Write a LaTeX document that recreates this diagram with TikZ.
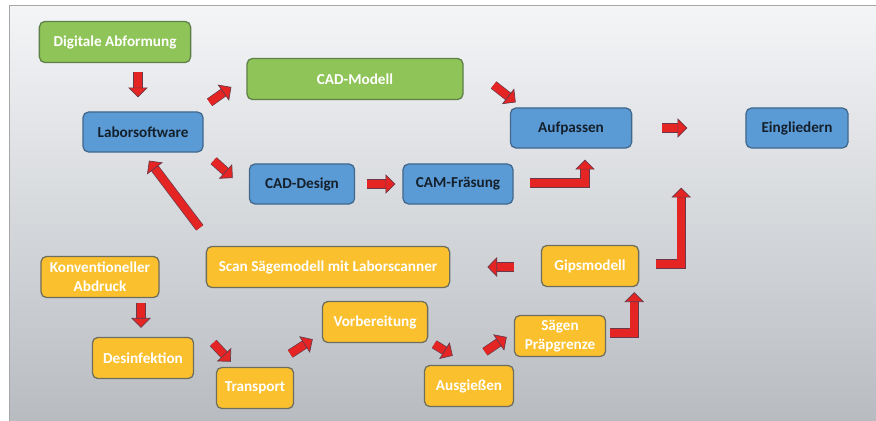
\documentclass[tikz,border=0pt]{standalone}
\usepackage{fontspec}
\setmainfont{Carlito}
\usetikzlibrary{arrows.meta}
\definecolor{grn}{HTML}{8FC558}
\definecolor{grnline}{HTML}{5E7F48}
\definecolor{blu}{HTML}{5B9BD5}
\definecolor{bluline}{HTML}{41678C}
\definecolor{blutext}{HTML}{14202C}
\definecolor{org}{HTML}{FBC02D}
\definecolor{orgline}{HTML}{6E6E5E}
\definecolor{arrred}{HTML}{E52424}
\definecolor{arredge}{HTML}{6A3A4A}
\definecolor{bgtop}{HTML}{F4F5F7}
\definecolor{bgmid}{HTML}{DDE0E3}
\definecolor{bgbot}{HTML}{B8BCC1}
\begin{document}
\begin{tikzpicture}[x=0.025cm,y=-0.025cm]
\tikzstyle{box}=[rounded corners=4pt,line width=0.9pt,font=\bfseries\fontsize{10.8}{13.5}\selectfont,minimum height=1.03cm,inner sep=2pt,align=center];
\tikzstyle{gbox}=[box,fill=grn,draw=grnline,text=white];
\tikzstyle{bbox}=[box,fill=blu,draw=bluline,text=blutext,minimum height=1cm];
\tikzstyle{obox}=[box,fill=org,draw=orgline,text=white];
\tikzstyle{flow}=[line width=5.5pt,color=arrred,-{Triangle[length=7pt,width=14pt,fill=arrred,color=arredge,line width=0.5pt]},preaction={draw=arredge,line width=6.5pt,shorten >=5pt,-}];

% background
\useasboundingbox (0,0) rectangle (876,421);
\fill[white] (0,0) rectangle (876,421);
\shade[top color=bgtop,middle color=bgmid,bottom color=bgbot] (9,5) rectangle (876,421);
\draw[gray!70,line width=0.6pt] (876,5) -| (9,421);

% digital path
\node [gbox,minimum width=3.78cm] (dig) at (115,42) {Digitale Abformung};
\node [gbox,minimum width=5.4cm] (cadm) at (355,79) {CAD-Modell};
\node [bbox,minimum width=3cm] (lab) at (143,132) {Laborsoftware};
\node [bbox,minimum width=3.03cm] (auf) at (571,128) {Aufpassen};
\node [bbox,minimum width=2.55cm] (ein) at (797,128) {Eingliedern};
\node [bbox,minimum width=2.63cm] (cadd) at (302,184) {CAD-Design};
\node [bbox,minimum width=2.75cm] (cam) at (458,184) {CAM-Fräsung};

% conventional path
\node [obox,minimum width=6.08cm] (scan) at (328,267) {Scan Sägemodell mit Laborscanner};
\node [obox,minimum width=2.43cm] (gips) at (590,266) {Gipsmodell};
\node [obox,minimum width=2.95cm] (konv) at (100,277) {Konventioneller\\Abdruck};
\node [obox,minimum width=2.53cm] (des) at (143,358) {Desinfektion};
\node [obox,minimum width=1.93cm] (trans) at (255,388) {Transport};
\node [obox,minimum width=2.63cm] (vorb) at (375,322) {Vorbereitung};
\node [obox,minimum width=2.23cm] (aus) at (469,386) {Ausgießen};
\node [obox,minimum width=2.28cm] (saeg) at (560,336) {Sägen\\Präpgrenze};

\draw [flow] ([shift={(23,9)}]dig.south) -- ([shift={(-5,-14)}]lab.north);
\draw [flow] ([shift={(6,-9)}]lab.north east) -- ([shift={(-15,8)}]cadm.west);
\draw [flow] ([shift={(10,8)}]lab.south east) -- ([shift={(-16,-6)}]cadd.west);
\draw [flow] ([shift={(12,0)}]cadd.east) -- ([shift={(-7,0)}]cam.west);
\draw [flow] ([shift={(16,-1)}]cam.east) -| ([shift={(14,11)}]auf.south);
\draw [flow] ([shift={(30,6)}]cadm.east) -- ([shift={(6,-5)}]auf.north west);
\draw [flow] ([shift={(30,0)}]auf.east) -- ([shift={(-58,0)}]ein.west);
\draw [flow] ([shift={(17,-2)}]gips.east) -| ([shift={(49,39)}]auf.south east);
\draw [flow] ([shift={(-27,1)}]gips.west) -- ([shift={(37,0)}]scan.east);
\draw [flow] ([shift={(-6,-18)}]scan.north west) -- ([shift={(6,8)}]lab.south);
\draw [flow] ([shift={(41,5)}]konv.south) -- ([shift={(-2,-9)}]des.north);
\draw [flow] ([shift={(19,-15)}]des.east) -- ([shift={(15,-5)}]trans.north west);
\draw [flow] ([shift={(-4,-13)}]trans.north east) -- ([shift={(-9,-4)}]vorb.south west);
\draw [flow] ([shift={(6,1)}]vorb.south east) -- ([shift={(29,-9)}]aus.north west);
\draw [flow] ([shift={(16,-13)}]aus.north) -- ([shift={(-7,1)}]saeg.west);
\draw [flow] ([shift={(4,-3)}]saeg.east) -| ([shift={(-5,5)}]gips.south east);
\end{tikzpicture}
\end{document}
